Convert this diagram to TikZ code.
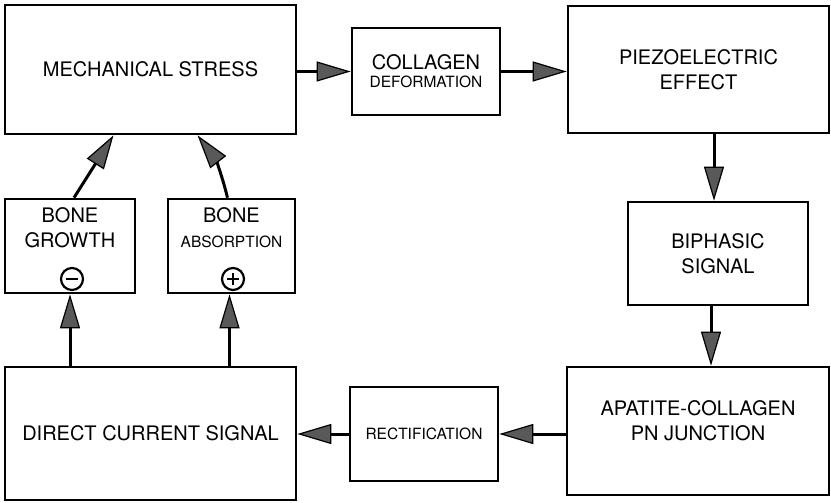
\documentclass[tikz,border=0pt]{standalone}
\usepackage{fontspec}
\setmainfont{TeX Gyre Heros}
\usetikzlibrary{arrows.meta,positioning,calc}
\newcommand\smtxt{\fontsize{15.5}{19}\selectfont}

\begin{document}
\begin{tikzpicture}[x=1pt,y=-1pt,
box/.style={draw,line width=2.6pt,align=center,inner sep=0pt,font=\fontsize{20}{25}\selectfont},
lbl/.style={align=center,inner sep=0pt,font=\fontsize{20}{25}\selectfont},
sign/.style={draw,circle,line width=2.2pt,minimum size=22pt,inner sep=0pt},
arr/.style={-{Triangle[length=34pt,width=20pt,line width=1.2pt,fill=black!65]},line width=3pt}]
\useasboundingbox (0,0) rectangle (831,503);
\node[box,minimum width=291pt,minimum height=129pt] (mech) at (150.5,69.5) {MECHANICAL STRESS};
\node[box,minimum width=148pt,minimum height=87pt] (coll) at (426,71.5) {COLLAGEN\\[-7pt]{\smtxt DEFORMATION}};
\node[box,minimum width=261pt,minimum height=127pt] (piezo) at (698.5,69.5) {PIEZOELECTRIC\\EFFECT};
\node[box,minimum width=180pt,minimum height=103pt] (biph) at (718,253.5) {BIPHASIC\\SIGNAL};
\node[box,minimum width=262pt,minimum height=128pt] (apat) at (698,431) {};
\node[lbl] (apattxt) at (698,421) {APATITE-COLLAGEN\\PN JUNCTION};
\node[box,minimum width=148pt,minimum height=94pt] (rect) at (424,434) {{\smtxt RECTIFICATION}};
\node[box,minimum width=291pt,minimum height=133pt] (dc) at (150.5,433.5) {DIRECT CURRENT SIGNAL};
\node[box,minimum width=130pt,minimum height=94pt] (grow) at (70,246) {};
\node[lbl] (growtxt) at (70,228) {BONE\\GROWTH};
\node[sign] (neg) at (72,279) {};
\node[box,minimum width=127pt,minimum height=94pt] (absb) at (231.5,246) {};
\node[lbl] (abstxt) at (231.5,228) {BONE\\{\smtxt ABSORPTION}};
\node[sign] (pos) at (233,279) {};
\draw[line width=2.2pt] ([xshift=-6pt]neg.center) -- ([xshift=6pt]neg.center);
\draw[line width=2.2pt] ([xshift=-6pt]pos.center) -- ([xshift=6pt]pos.center);
\draw[line width=2.2pt] ([yshift=-6pt]pos.center) -- ([yshift=6pt]pos.center);
% main loop
\draw[arr] (mech.east|-coll.west) -- (coll.west);
\draw[arr] (coll.east) -- (coll.east-|piezo.west);
\draw[arr] ([xshift=-4pt]biph.north|-piezo.south) -- ([xshift=-4pt]biph.north);
\draw[arr] ([xshift=-7pt]biph.south) -- ([xshift=-7pt]biph.south|-apat.north);
\draw[arr] (apat.west|-rect.east) -- (rect.east);
\draw[arr] (rect.west) -- (rect.west-|dc.east);
% feedback to stress
\draw[arr] (grow.south|-dc.north) -- (grow.south);
\draw[arr] ([xshift=-2pt]absb.south|-dc.north) -- ([xshift=-2pt]absb.south);
\draw[arr] ([xshift=4pt]grow.north) -- ([xshift=-37pt]mech.south);
\draw[arr] ([xshift=-4pt]absb.north) to[bend right=12] ([xshift=47pt]mech.south);
\end{tikzpicture}
\end{document}
